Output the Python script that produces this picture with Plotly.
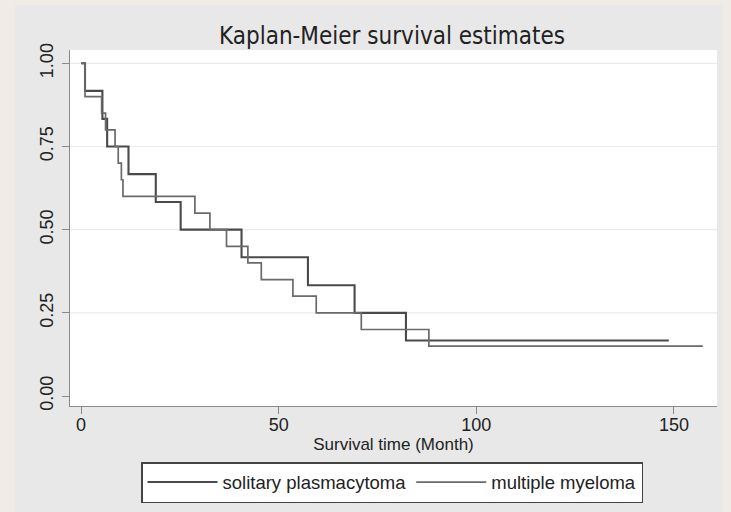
import plotly.graph_objects as go

# ---- data ----
sp_time = [0, 1.0, 5.4, 6.6, 12.0, 18.9, 25.2, 40.6, 57.4, 69.2, 82.2, 148.7]
sp_surv = [1.0, 0.917, 0.833, 0.750, 0.667, 0.583, 0.500, 0.417, 0.333, 0.250, 0.167, 0.167]

mm_time = [0, 1.0, 5.2, 6.2, 8.6, 9.4, 10.2, 10.6, 28.8, 32.6, 36.8, 42.2, 45.6, 53.6, 59.5, 70.9, 88.0, 157.3]
mm_surv = [1.0, 0.90, 0.85, 0.80, 0.75, 0.70, 0.65, 0.60, 0.55, 0.50, 0.45, 0.40, 0.35, 0.30, 0.25, 0.20, 0.15, 0.15]

series_names = ["solitary plasmacytoma", "multiple myeloma"]
x_ticks = [0, 50, 100, 150]
y_ticks = [0.0, 0.25, 0.5, 0.75, 1.0]
y_tick_labels = ["0.00", "0.25", "0.50", "0.75", "1.00"]
grid_vals = [0.25, 0.5, 0.75, 1.0]

title_text = "Kaplan-Meier survival estimates"
x_title = "Survival time (Month)"

PANEL = "#e8e8e8"
OUTER = "#f0ece5"
AXIS = "#8a8a8a"
FONT = "Liberation Sans, Arial, sans-serif"

fig = go.Figure()
fig.add_trace(go.Scatter(x=sp_time, y=sp_surv, mode="lines", name=series_names[0],
                         line=dict(shape="hv", color="#4a4a4a", width=2.1)))
fig.add_trace(go.Scatter(x=mm_time, y=mm_surv, mode="lines", name=series_names[1],
                         line=dict(shape="hv", color="#6a6a6a", width=1.7)))

W, H = 731, 512
L, R, T, B = 70, 14, 50, 106
pw, ph = W - L - R, H - T - B

def px_x(p):
    return (p - L) / pw

def px_y(p):
    return (H - B - p) / ph

shapes = []
# grid lines
for g in grid_vals:
    shapes.append(dict(type="line", xref="paper", yref="y", x0=0, x1=1, y0=g, y1=g,
                       line=dict(color="#ebebeb", width=1.2), layer="below"))
# outer beige frame strips
shapes.append(dict(type="rect", xref="paper", yref="paper", x0=px_x(-2), x1=px_x(15),
                   y0=px_y(H + 2), y1=px_y(-2), fillcolor=OUTER, line=dict(width=0), layer="below"))
shapes.append(dict(type="rect", xref="paper", yref="paper", x0=px_x(-2), x1=px_x(W + 2),
                   y0=px_y(5), y1=px_y(-2), fillcolor=OUTER, line=dict(width=0), layer="below"))
shapes.append(dict(type="rect", xref="paper", yref="paper", x0=px_x(723), x1=px_x(W + 2),
                   y0=px_y(H + 2), y1=px_y(-2), fillcolor=OUTER, line=dict(width=0), layer="below"))

fig.update_layout(
    width=W, height=H,
    margin=dict(l=L, r=R, t=T, b=B, autoexpand=False),
    paper_bgcolor=PANEL,
    plot_bgcolor="white",
    font=dict(family=FONT, color="#222222", size=17),
    title=dict(text=title_text, xref="paper", x=px_x(392), xanchor="center",
               yref="container", y=1 - 36 / H, yanchor="middle",
               font=dict(family="Liberation Sans Narrow, DejaVu Sans Condensed, Arial Narrow, sans-serif",
                         size=24, color="#222222")),
    shapes=shapes,
    showlegend=True,
    legend=dict(orientation="h", x=px_x(392), xanchor="center", y=px_y(462), yanchor="top",
                bgcolor="white", bordercolor="#444444", borderwidth=1.5,
                font=dict(size=18.5, color="#222222"), itemwidth=70,
                traceorder="normal"),
    xaxis=dict(range=[-2.8, 160.9], tickvals=x_ticks, showgrid=False, zeroline=False,
               showline=True, linecolor=AXIS, linewidth=1.2, ticks="outside", ticklen=7,
               tickcolor=AXIS, tickwidth=1.2, tickfont=dict(size=18, color="#222222"),
               ticklabelstandoff=-5,
               title=dict(text=x_title, standoff=2, font=dict(size=17, color="#222222"))),
    yaxis=dict(range=[-0.030, 1.040], tickvals=y_ticks, ticktext=y_tick_labels, tickangle=-90,
               showgrid=False, zeroline=False, showline=True, linecolor=AXIS, linewidth=1.2,
               ticks="outside", ticklen=7, tickcolor=AXIS, tickwidth=1.2,
               tickfont=dict(size=18, color="#222222"), ticklabelstandoff=2),
)

fig.write_html("out.html", config={"displayModeBar": False},
               post_script="document.body.style.margin='0';document.body.style.overflow='hidden';")
